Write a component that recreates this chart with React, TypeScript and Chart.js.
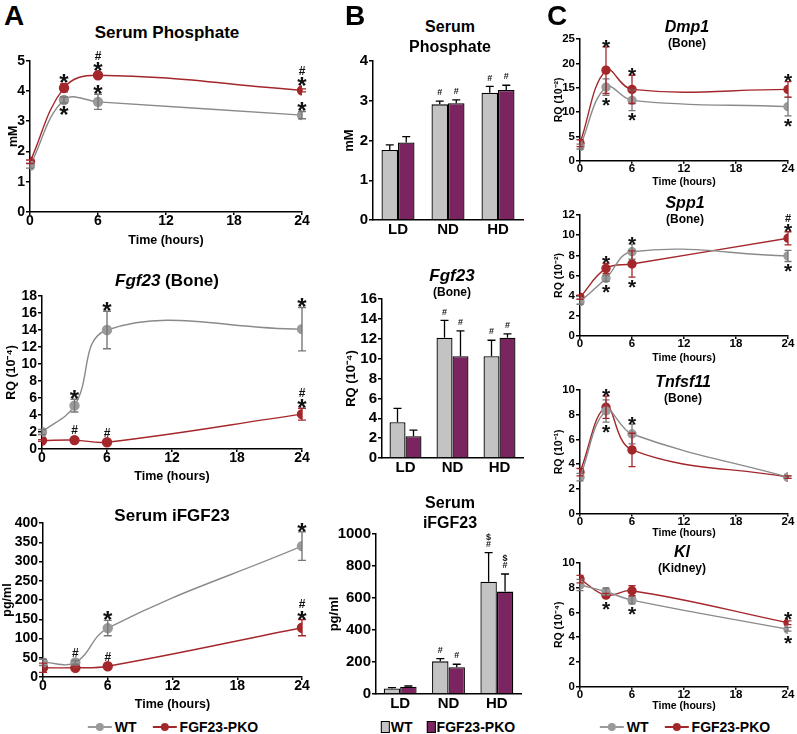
import React, { useEffect, useRef } from "react";
import { Chart, registerables } from "chart.js";

Chart.register(...registerables);

const FONT = '"Liberation Sans", Arial, Helvetica, sans-serif';
const GRAY_LINE = "#8a8a8a";
const GRAY_PT = "#9a9a9a";
const GRAY_ERR = "#777777";
const RED = "#a4272b";
const BAR_GRAY = "#c3c3c3";
const BAR_PURPLE = "#7a2460";

// ---------- shared categories ----------
const hours = [0, 3, 6, 24];
const timeTicks = [0, 6, 12, 18, 24];
const dietGroups = ["LD", "ND", "HD"];
const seriesNames = ["WT", "FGF23-PKO"];

// ---------- Panel A : time course ----------
const aPhosWT = [1.53, 3.7, 3.64, 3.2];
const aPhosWTErr = [0.08, 0.1, 0.25, 0.12];
const aPhosKO = [1.66, 4.1, 4.52, 4.02];
const aPhosKOErr = [0.06, 0.13, 0.05, 0.05];
const aPhosWTUp = ["", "", "*", "*"];
const aPhosWTDown = ["", "*", "", ""];
const aPhosKOUp = ["", "*", "#*", "#*"];

const aFgfWT = [2.0, 5.1, 14.0, 14.1];
const aFgfWTErr = [0.3, 0.75, 2.2, 2.55];
const aFgfKO = [1.0, 1.05, 0.8, 4.1];
const aFgfKOErr = [0.1, 0.1, 0.1, 0.7];
const aFgfWTUp = ["", "*", "*", "*"];
const aFgfKOUp = ["", "#", "#", "#*"];

const aIfgfWT = [38, 38, 127, 340];
const aIfgfWTErr = [8, 5, 20, 37];
const aIfgfKO = [24, 24, 28, 128];
const aIfgfKOErr = [12, 4, 4, 21];
const aIfgfWTUp = ["", "#", "*", "*"];
const aIfgfKOUp = ["", "", "#", "#*"];

// ---------- Panel B : diets ----------
const bPhosWT = [1.76, 2.91, 3.2];
const bPhosWTErr = [0.13, 0.08, 0.16];
const bPhosKO = [1.95, 2.94, 3.27];
const bPhosKOErr = [0.15, 0.08, 0.12];
const bPhosWTUp = ["", "#", "#"];
const bPhosKOUp = ["", "#", "#"];

const bFgfWT = [3.6, 12.1, 10.25];
const bFgfWTErr = [1.4, 1.75, 1.6];
const bFgfKO = [2.2, 10.25, 12.1];
const bFgfKOErr = [0.6, 2.55, 0.4];
const bFgfWTUp = ["", "#", "#"];
const bFgfKOUp = ["", "#", "#"];

const bIfgfWT = [35, 204, 702];
const bIfgfWTErr = [5, 17, 181];
const bIfgfKO = [45, 167, 640];
const bIfgfKOErr = [5, 19, 110];
const bIfgfWTUp = ["", "#", "$#"];
const bIfgfKOUp = ["", "#", "$#"];

// ---------- Panel C : bone / kidney genes ----------
const cDmpWT = [2.9, 15.1, 12.4, 11.1];
const cDmpWTErr = [0.5, 1.7, 2.1, 1.9];
const cDmpKO = [3.6, 18.6, 14.65, 14.65];
const cDmpKOErr = [0.7, 4.8, 2.9, 1.6];
const cDmpKOUp = ["", "*", "*", "*"];
const cDmpWTDown = ["", "*", "*", "*"];

const cSppWT = [3.4, 5.72, 8.36, 7.94];
const cSppWTErr = [0.25, 0.3, 0.75, 0.55];
const cSppKO = [3.84, 6.7, 7.14, 9.69];
const cSppKOErr = [0.2, 0.5, 1.3, 0.65];
const cSppWTUp = ["", "", "*", ""];
const cSppWTDown = ["", "*", "", "*"];
const cSppKOUp = ["", "*", "", "#*"];
const cSppKODown = ["", "", "*", ""];

const cTnfWT = [2.95, 8.3, 6.44, 2.95];
const cTnfWTErr = [0.3, 0.9, 0.8, 0.1];
const cTnfKO = [3.35, 8.6, 5.15, 2.95];
const cTnfKOErr = [0.3, 0.9, 1.35, 0.1];
const cTnfWTUp = ["", "", "*", ""];
const cTnfWTDown = ["", "*", "", ""];
const cTnfKOUp = ["", "*", "", ""];

const cKlWT = [8.22, 7.68, 7.0, 4.64];
const cKlWTErr = [0.45, 0.3, 0.3, 0.15];
const cKlKO = [8.7, 7.4, 7.76, 5.17];
const cKlKOErr = [0.3, 0.15, 0.4, 0.15];
const cKlWTDown = ["", "", "*", "*"];
const cKlKOUp = ["", "", "", "*"];
const cKlKODown = ["", "*", "", ""];

// ---------- drawing helpers ----------
type MarkCfg = {
  bar?: boolean;
  r: number;
  capW: number;
  errW: number;
  gap: number;
  starSize: number;
  starSlot: number;
  symSize: number;
  symSlot: number;
};

function drawSym(ctx: CanvasRenderingContext2D, ch: string, x: number, cy: number, m: MarkCfg) {
  ctx.fillStyle = "#111";
  ctx.textAlign = "center";
  ctx.textBaseline = "alphabetic";
  if (ch === "*") {
    ctx.font = `bold ${m.starSize}px ${FONT}`;
    ctx.fillText("*", x, cy + 0.56 * m.starSize);
  } else {
    ctx.font = `bold ${m.symSize}px ${FONT}`;
    ctx.fillText(ch, x, cy + 0.36 * m.symSize);
  }
}

function drawStack(ctx: CanvasRenderingContext2D, s: string | undefined, x: number, start: number, dir: number, m: MarkCfg) {
  if (!s) return;
  const chars = s.split("");
  const order = dir < 0 ? chars.slice().reverse() : chars;
  let c = start + dir * m.gap;
  order.forEach((ch) => {
    const h = ch === "*" ? m.starSlot : m.symSlot;
    c += (dir * h) / 2;
    drawSym(ctx, ch, x, c, m);
    c += (dir * h) / 2;
  });
}

function makeMarks(m: MarkCfg) {
  return {
    id: "marks",
    afterDatasetsDraw(chart: any) {
      const ctx: CanvasRenderingContext2D = chart.ctx;
      const ys = chart.scales.y;
      chart.data.datasets.forEach((ds: any, di: number) => {
        const meta = chart.getDatasetMeta(di);
        meta.data.forEach((el: any, i: number) => {
          const raw = ds.data[i];
          const v = typeof raw === "number" ? raw : raw.y;
          const e = ds.err ? ds.err[i] : 0;
          const x = el.x;
          const yTop = ys.getPixelForValue(v + e);
          const yBot = ys.getPixelForValue(m.bar ? v : v - e);
          ctx.save();
          ctx.strokeStyle = ds.errColor;
          ctx.lineWidth = m.errW;
          ctx.beginPath();
          ctx.moveTo(x, yTop);
          ctx.lineTo(x, yBot);
          ctx.moveTo(x - m.capW / 2, yTop);
          ctx.lineTo(x + m.capW / 2, yTop);
          if (!m.bar) {
            ctx.moveTo(x - m.capW / 2, yBot);
            ctx.lineTo(x + m.capW / 2, yBot);
          }
          ctx.stroke();
          const py = ys.getPixelForValue(v);
          const upStart = Math.min(yTop, py - m.r);
          const downStart = Math.max(ys.getPixelForValue(v - e), py + m.r);
          drawStack(ctx, ds.up ? ds.up[i] : "", x, upStart, -1, m);
          drawStack(ctx, ds.down ? ds.down[i] : "", x, downStart, 1, m);
          ctx.restore();
        });
      });
    },
  };
}

type Frame = {
  axL: number;
  axR: number;
  axT: number;
  axB: number;
  yTitleX: number;
  yTitleSize: number;
  xTitleY?: number;
  xTitleSize?: number;
  xH?: number;
  tick: number;
  xTick: number;
  xPad: number;
};

const PAD_T = 10;
const PAD_R = 14;

function rectFor(f: Frame) {
  const x0 = Math.floor(f.yTitleX - (f.yTitleSize * 1.2) / 2);
  const y0 = Math.floor(f.axT - PAD_T);
  const bottom = f.xTitleY != null ? f.xTitleY + ((f.xTitleSize || 12) * 1.2) / 2 : f.axB + (f.xH || 24);
  const w = Math.ceil(f.axR + PAD_R - x0);
  const h = Math.ceil(bottom - y0);
  return { x0, y0, w, h, yW: f.axL - x0, xH: y0 + h - f.axB, padT: f.axT - y0, padR: x0 + w - f.axR };
}

function fontOf(size: number, italic = false) {
  return { family: FONT, size, weight: "bold" as const, style: italic ? ("italic" as const) : ("normal" as const) };
}

function yScale(f: Frame, r: any, max: number, step: number, title: string) {
  return {
    type: "linear",
    min: 0,
    max,
    ticks: {
      stepSize: step,
      font: fontOf(f.tick),
      color: "#000",
      padding: 1,
      autoSkip: false,
      callback: (v: any) => String(v),
    },
    grid: { display: true, drawOnChartArea: false, drawTicks: true, tickLength: 4, color: "#000", lineWidth: 1.5 },
    border: { display: true, color: "#000", width: 1.5 },
    title: { display: true, text: title, font: fontOf(f.yTitleSize), color: "#000", padding: 0 },
    afterFit: (sc: any) => {
      sc.width = r.yW;
    },
  };
}

type LineSpec = {
  frame: Frame;
  yMax: number;
  yStep: number;
  yTitle: string;
  wt: number[];
  wtErr: number[];
  ko: number[];
  koErr: number[];
  wtUp?: string[];
  wtDown?: string[];
  koUp?: string[];
  koDown?: string[];
  marks: MarkCfg;
};

function lineConfig(s: LineSpec) {
  const f = s.frame;
  const r = rectFor(f);
  return {
    rect: r,
    config: {
      type: "line",
      data: {
        datasets: [
          {
            label: seriesNames[0],
            data: hours.map((h, i) => ({ x: h, y: s.wt[i] })),
            err: s.wtErr,
            up: s.wtUp,
            down: s.wtDown,
            errColor: GRAY_ERR,
            borderColor: GRAY_LINE,
            backgroundColor: GRAY_PT,
            pointBackgroundColor: GRAY_PT,
            pointBorderColor: GRAY_PT,
            pointRadius: s.marks.r,
            borderWidth: 1.4,
            tension: 0.4,
          },
          {
            label: seriesNames[1],
            data: hours.map((h, i) => ({ x: h, y: s.ko[i] })),
            err: s.koErr,
            up: s.koUp,
            down: s.koDown,
            errColor: RED,
            borderColor: RED,
            backgroundColor: RED,
            pointBackgroundColor: RED,
            pointBorderColor: RED,
            pointRadius: s.marks.r,
            borderWidth: 1.4,
            tension: 0.4,
          },
        ],
      },
      options: {
        animation: false,
        responsive: false,
        maintainAspectRatio: false,
        layout: { padding: { top: r.padT, right: r.padR, left: 0, bottom: 0 } },
        plugins: { legend: { display: false }, tooltip: { enabled: false }, title: { display: false } },
        scales: {
          x: {
            type: "linear",
            min: 0,
            max: 24,
            afterBuildTicks: (sc: any) => {
              sc.ticks = timeTicks.map((v) => ({ value: v }));
            },
            ticks: { font: fontOf(f.xTick), color: "#000", padding: f.xPad, maxRotation: 0, autoSkip: false },
            grid: { display: true, drawOnChartArea: false, drawTicks: true, tickLength: 3, color: "#000", lineWidth: 1.5 },
            border: { display: true, color: "#000", width: 1.5 },
            title: { display: true, text: "Time (hours)", font: fontOf(f.xTitleSize || 12), color: "#000", padding: 0 },
            afterFit: (sc: any) => {
              sc.height = r.xH;
            },
          },
          y: yScale(f, r, s.yMax, s.yStep, s.yTitle),
        },
      },
      plugins: [makeMarks(s.marks)],
    },
  };
}

type BarSpec = {
  frame: Frame;
  yMax: number;
  yStep: number;
  yTitle: string;
  wt: number[];
  wtErr: number[];
  ko: number[];
  koErr: number[];
  wtUp: string[];
  koUp: string[];
  catPct: number;
  marks: MarkCfg;
};

function barConfig(s: BarSpec) {
  const f = s.frame;
  const r = rectFor(f);
  return {
    rect: r,
    config: {
      type: "bar",
      data: {
        labels: dietGroups,
        datasets: [
          { label: seriesNames[0], data: s.wt, err: s.wtErr, up: s.wtUp, errColor: "#000", backgroundColor: BAR_GRAY, borderColor: "#000", borderWidth: 1.3 },
          { label: seriesNames[1], data: s.ko, err: s.koErr, up: s.koUp, errColor: "#000", backgroundColor: BAR_PURPLE, borderColor: "#000", borderWidth: 1.3 },
        ],
      },
      options: {
        animation: false,
        responsive: false,
        maintainAspectRatio: false,
        datasets: { bar: { categoryPercentage: s.catPct, barPercentage: 1 } },
        layout: { padding: { top: r.padT, right: r.padR, left: 0, bottom: 0 } },
        plugins: { legend: { display: false }, tooltip: { enabled: false }, title: { display: false } },
        scales: {
          x: {
            type: "category",
            ticks: { font: fontOf(f.xTick), color: "#000", padding: f.xPad, maxRotation: 0 },
            grid: { display: false, drawTicks: false },
            border: { display: true, color: "#000", width: 1.5 },
            afterFit: (sc: any) => {
              sc.height = r.xH;
            },
          },
          y: yScale(f, r, s.yMax, s.yStep, s.yTitle),
        },
      },
      plugins: [makeMarks(s.marks)],
    },
  };
}

const markA: MarkCfg = { r: 4.5, capW: 8, errW: 1.4, gap: 0.5, starSize: 24, starSlot: 10, symSize: 12, symSlot: 10 };
const markB: MarkCfg = { bar: true, r: 0, capW: 8, errW: 1.3, gap: 5.5, starSize: 20, starSlot: 9, symSize: 9, symSlot: 7 };
const markC: MarkCfg = { r: 4, capW: 7, errW: 1.3, gap: 0.5, starSize: 21, starSlot: 9, symSize: 11, symSlot: 9 };

const frA = (axL: number, axT: number, axB: number, yTitleX: number, xTitleY: number): Frame => ({
  axL, axR: 302, axT, axB, yTitleX, yTitleSize: 12.5, xTitleY, xTitleSize: 12.5, tick: 14, xTick: 14, xPad: -2,
});
const frB = (axL: number, axR: number, axT: number, axB: number, yTitleX: number): Frame => ({
  axL, axR, axT, axB, yTitleX, yTitleSize: 13, xH: 22, tick: 15, xTick: 15, xPad: 1,
});
const frC = (axT: number, axB: number, xTitleY: number): Frame => ({
  axL: 580, axR: 788, axT, axB, yTitleX: 560, yTitleSize: 10.5, xTitleY, xTitleSize: 10.5, tick: 11.5, xTick: 11.5, xPad: -2,
});

const charts = [
  lineConfig({ frame: frA(30, 60.7, 212, 14, 240), yMax: 5, yStep: 1, yTitle: "mM", wt: aPhosWT, wtErr: aPhosWTErr, ko: aPhosKO, koErr: aPhosKOErr, wtUp: aPhosWTUp, wtDown: aPhosWTDown, koUp: aPhosKOUp, marks: markA }),
  lineConfig({ frame: frA(42, 296, 449, 12, 476), yMax: 18, yStep: 2, yTitle: "RQ (10\u207B\u2074)", wt: aFgfWT, wtErr: aFgfWTErr, ko: aFgfKO, koErr: aFgfKOErr, wtUp: aFgfWTUp, koUp: aFgfKOUp, marks: markA }),
  lineConfig({ frame: frA(43, 523, 677, 8, 704), yMax: 400, yStep: 50, yTitle: "pg/ml", wt: aIfgfWT, wtErr: aIfgfWTErr, ko: aIfgfKO, koErr: aIfgfKOErr, wtUp: aIfgfWTUp, koUp: aIfgfKOUp, marks: markA }),
  barConfig({ frame: frB(373, 523, 61, 220, 350), yMax: 4, yStep: 1, yTitle: "mM", wt: bPhosWT, wtErr: bPhosWTErr, ko: bPhosKO, koErr: bPhosKOErr, wtUp: bPhosWTUp, koUp: bPhosKOUp, catPct: 0.66, marks: markB }),
  barConfig({ frame: frB(382, 523, 299, 458, 352), yMax: 16, yStep: 2, yTitle: "RQ (10\u207B\u2074)", wt: bFgfWT, wtErr: bFgfWTErr, ko: bFgfKO, koErr: bFgfKOErr, wtUp: bFgfWTUp, koUp: bFgfKOUp, catPct: 0.68, marks: markB }),
  barConfig({ frame: frB(376, 521, 534, 694, 335), yMax: 1000, yStep: 200, yTitle: "pg/ml", wt: bIfgfWT, wtErr: bIfgfWTErr, ko: bIfgfKO, koErr: bIfgfKOErr, wtUp: bIfgfWTUp, koUp: bIfgfKOUp, catPct: 0.68, marks: markB }),
  lineConfig({ frame: frC(39, 160.7, 181.7), yMax: 25, yStep: 5, yTitle: "RQ (10\u207B\u00B2)", wt: cDmpWT, wtErr: cDmpWTErr, ko: cDmpKO, koErr: cDmpKOErr, koUp: cDmpKOUp, wtDown: cDmpWTDown, marks: markC }),
  lineConfig({ frame: frC(215, 336, 357), yMax: 12, yStep: 2, yTitle: "RQ (10\u207B\u00B2)", wt: cSppWT, wtErr: cSppWTErr, ko: cSppKO, koErr: cSppKOErr, wtUp: cSppWTUp, wtDown: cSppWTDown, koUp: cSppKOUp, koDown: cSppKODown, marks: markC }),
  lineConfig({ frame: frC(390, 513.6, 532), yMax: 10, yStep: 2, yTitle: "RQ (10\u207B\u00B9)", wt: cTnfWT, wtErr: cTnfWTErr, ko: cTnfKO, koErr: cTnfKOErr, wtUp: cTnfWTUp, wtDown: cTnfWTDown, koUp: cTnfKOUp, marks: markC }),
  lineConfig({ frame: frC(563, 686.7, 705.5), yMax: 10, yStep: 2, yTitle: "RQ (10\u207B\u2074)", wt: cKlWT, wtErr: cKlWTErr, ko: cKlKO, koErr: cKlKOErr, wtDown: cKlWTDown, koUp: cKlKOUp, koDown: cKlKODown, marks: markC }),
];

function ChartCanvas({ item }: { item: any }) {
  const ref = useRef<HTMLCanvasElement | null>(null);
  useEffect(() => {
    if (!ref.current) return;
    const c = new Chart(ref.current, item.config as any);
    return () => c.destroy();
  }, [item]);
  const r = item.rect;
  return (
    <canvas
      ref={ref}
      width={r.w}
      height={r.h}
      style={{ position: "absolute", left: r.x0, top: r.y0, width: r.w, height: r.h }}
    />
  );
}

type TitleLine = { x: number; y: number; size: number; parts: { t: string; i?: boolean }[] };

const titles: TitleLine[] = [
  { x: 167, y: 32, size: 17, parts: [{ t: "Serum Phosphate" }] },
  { x: 167, y: 280, size: 17, parts: [{ t: "Fgf23", i: true }, { t: " (Bone)" }] },
  { x: 172, y: 515, size: 17, parts: [{ t: "Serum iFGF23" }] },
  { x: 450, y: 27, size: 16, parts: [{ t: "Serum" }] },
  { x: 450, y: 47, size: 16, parts: [{ t: "Phosphate" }] },
  { x: 452, y: 275, size: 17, parts: [{ t: "Fgf23", i: true }] },
  { x: 452, y: 292, size: 12, parts: [{ t: "(Bone)" }] },
  { x: 450, y: 503, size: 16, parts: [{ t: "Serum" }] },
  { x: 450, y: 523, size: 16, parts: [{ t: "iFGF23" }] },
  { x: 687, y: 27, size: 16, parts: [{ t: "Dmp1", i: true }] },
  { x: 687, y: 43, size: 12, parts: [{ t: "(Bone)" }] },
  { x: 685, y: 203, size: 16, parts: [{ t: "Spp1", i: true }] },
  { x: 685, y: 219, size: 12, parts: [{ t: "(Bone)" }] },
  { x: 683, y: 382, size: 16, parts: [{ t: "Tnfsf11", i: true }] },
  { x: 683, y: 398, size: 12, parts: [{ t: "(Bone)" }] },
  { x: 682, y: 552, size: 16, parts: [{ t: "Kl", i: true }] },
  { x: 682, y: 568, size: 12, parts: [{ t: "(Kidney)" }] },
  { x: 14, y: 16, size: 28, parts: [{ t: "A" }] },
  { x: 355, y: 16, size: 28, parts: [{ t: "B" }] },
  { x: 557, y: 16, size: 28, parts: [{ t: "C" }] },
];

function Title({ t }: { t: TitleLine }) {
  return (
    <div
      style={{
        position: "absolute",
        left: t.x,
        top: t.y,
        transform: "translate(-50%, -50%)",
        whiteSpace: "nowrap",
        fontFamily: FONT,
        fontWeight: "bold",
        fontSize: t.size,
        lineHeight: 1,
        color: "#000",
      }}
    >
      {t.parts.map((p, i) => (
        <span key={i} style={{ fontStyle: p.i ? "italic" : "normal" }}>
          {p.t}
        </span>
      ))}
    </div>
  );
}

function LineMarker({ color }: { color: string }) {
  return (
    <span style={{ position: "relative", display: "inline-block", width: 24, height: 10, marginRight: 3 }}>
      <span style={{ position: "absolute", left: 0, right: 0, top: 4, height: 2, background: color }} />
      <span style={{ position: "absolute", left: 8, top: 1, width: 8, height: 8, borderRadius: "50%", background: color }} />
    </span>
  );
}

function BoxMarker({ color }: { color: string }) {
  return (
    <span
      style={{
        display: "inline-block",
        width: 7,
        height: 10,
        border: "1.2px solid #000",
        background: color,
        marginRight: 1,
      }}
    />
  );
}

function Legend({ cx, cy, kind }: { cx: number; cy: number; kind: "line" | "bar" }) {
  const colors = kind === "line" ? [GRAY_PT, RED] : [BAR_GRAY, BAR_PURPLE];
  return (
    <div
      style={{
        position: "absolute",
        left: cx,
        top: cy,
        transform: "translate(-50%, -50%)",
        display: "flex",
        alignItems: "center",
        whiteSpace: "nowrap",
        fontFamily: FONT,
        fontWeight: "bold",
        fontSize: 14,
        lineHeight: 1,
        color: "#000",
      }}
    >
      {seriesNames.map((n, i) => (
        <span key={n} style={{ display: "inline-flex", alignItems: "center", marginLeft: i ? (kind === "line" ? 16 : 14) : 0 }}>
          {kind === "line" ? <LineMarker color={colors[i]} /> : <BoxMarker color={colors[i]} />}
          {n}
        </span>
      ))}
    </div>
  );
}

export default function App() {
  return (
    <div
      style={{
        position: "absolute",
        left: 0,
        top: 0,
        width: 797,
        height: 734,
        background: "#fff",
        overflow: "hidden",
      }}
    >
      {charts.map((c, i) => (
        <ChartCanvas key={i} item={c} />
      ))}
      {titles.map((t, i) => (
        <Title key={i} t={t} />
      ))}
      <Legend cx={173} cy={727} kind="line" />
      <Legend cx={448} cy={727} kind="bar" />
      <Legend cx={685} cy={727} kind="line" />
    </div>
  );
}
